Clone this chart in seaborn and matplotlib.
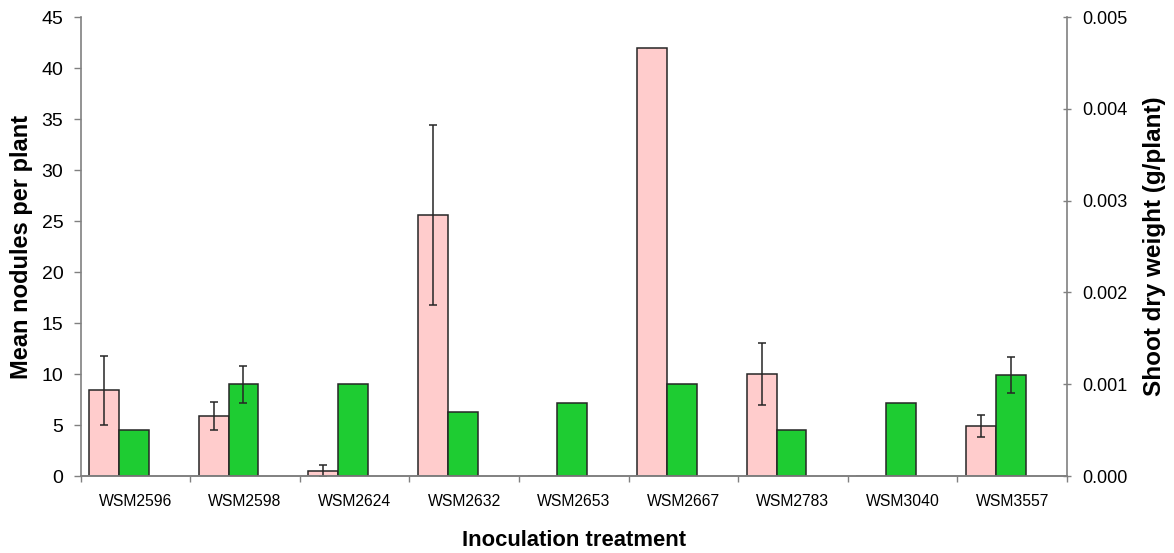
import numpy as np
import pandas as pd
import matplotlib
matplotlib.use('Agg')
import matplotlib.pyplot as plt
import seaborn as sns

# ── Data ─────────────────────────────────────────────────────
strains = ['WSM2596', 'WSM2598', 'WSM2624', 'WSM2632', 'WSM2653',
           'WSM2667', 'WSM2783', 'WSM3040', 'WSM3557']
nodules = [8.4, 5.9, 0.5, 25.6, 0.0, 42.0, 10.0, 0.0, 4.9]
nodules_err = [3.4, 1.4, 0.55, 8.8, np.nan, np.nan, 3.0, np.nan, 1.1]
shoot_dw = [0.0005, 0.0010, 0.0010, 0.0007, 0.0008, 0.0010, 0.0005, 0.0008, 0.0011]
shoot_err = [np.nan, 0.0002, np.nan, np.nan, np.nan, np.nan, np.nan, np.nan, 0.0002]

PINK = '#FFCCCC'
GREEN = '#1ECC32'
AXIS = '#808080'
EDGE = '#262626'

sns.set_style('white')
plt.rcParams['font.family'] = ['Liberation Sans', 'DejaVu Sans']
plt.rcParams['text.color'] = 'black'
plt.rcParams['axes.labelcolor'] = 'black'
plt.rcParams['xtick.color'] = 'black'
plt.rcParams['ytick.color'] = 'black'

# bar layout within each category slot (slot centred on integer index)
BAR_W = 0.272
PINK_OFF = -0.286
GREEN_OFF = PINK_OFF + BAR_W

idx = np.arange(len(strains))
df = pd.DataFrame({'strain': strains, 'nodules': nodules, 'shoot': shoot_dw,
                   'x_pink': idx + PINK_OFF, 'x_green': idx + GREEN_OFF})

fig = plt.figure(figsize=(11.74, 5.53), dpi=100)
ax = fig.add_axes([0.0687, 0.1392, 0.8401, 0.8300])
ax2 = ax.twinx()

sns.barplot(data=df, x='x_pink', y='nodules', native_scale=True, width=BAR_W,
            color=PINK, saturation=1, edgecolor=EDGE, linewidth=1.1,
            errorbar=None, ax=ax)
sns.barplot(data=df, x='x_green', y='shoot', native_scale=True, width=BAR_W,
            color=GREEN, saturation=1, edgecolor=EDGE, linewidth=1.1,
            errorbar=None, ax=ax2)

ax.errorbar(df['x_pink'], df['nodules'], yerr=nodules_err, fmt='none',
            ecolor=EDGE, elinewidth=1.1, capsize=3.2, capthick=1.1, zorder=5)
ax2.errorbar(df['x_green'], df['shoot'], yerr=shoot_err, fmt='none',
             ecolor=EDGE, elinewidth=1.1, capsize=3.2, capthick=1.1, zorder=5)

# axes limits / ticks
ax.set_xlim(-0.5, len(strains) - 0.5)
ax.set_ylim(0, 45)
ax.set_yticks(np.arange(0, 46, 5))
ax2.set_ylim(0, 0.005)
ax2.set_yticks(np.arange(0, 0.0051, 0.001))
ax2.set_yticklabels([f'{v:.3f}' for v in np.arange(0, 0.0051, 0.001)])

ax.set_xticks(idx)
ax.set_xticklabels(strains, fontsize=11.3)
ax.set_xticks(np.arange(len(strains) + 1) - 0.5, minor=True)
ax.tick_params(axis='x', which='major', length=0, pad=13, bottom=True)
ax.tick_params(axis='x', which='minor', length=4.3, width=1, color=AXIS,
               direction='out', bottom=True)
ax.tick_params(axis='y', length=5, width=1, color=AXIS, direction='out',
               labelsize=14, left=True, pad=7.5)
ax2.tick_params(axis='y', length=6, width=1, color=AXIS, direction='inout',
                labelsize=13, right=True, pad=8)

for a in (ax, ax2):
    a.grid(False)
    a.spines['top'].set_visible(False)
    for s in ('left', 'right', 'bottom'):
        a.spines[s].set_color(AXIS)
        a.spines[s].set_linewidth(1.2)
ax2.spines['left'].set_visible(False)
ax.spines['right'].set_visible(False)

ax.set_xlabel('Inoculation treatment', fontsize=15.8, fontweight='bold', labelpad=15)
ax.set_ylabel('Mean nodules per plant', fontsize=17, fontweight='bold', labelpad=6)
ax2.set_ylabel('Shoot dry weight (g/plant)', fontsize=17.5, fontweight='bold', labelpad=11)

fig.savefig('out.png', dpi=100, facecolor='white')
